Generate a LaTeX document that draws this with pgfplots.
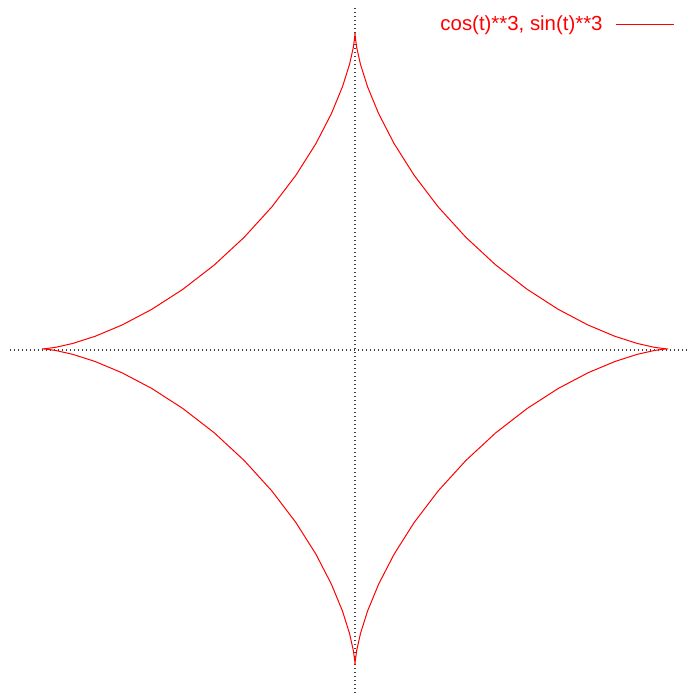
\documentclass[border=0pt]{standalone}
\usepackage{fontspec}
\setmainfont{Liberation Sans}
\usepackage{pgfplots}
\pgfplotsset{compat=1.18}

\begin{document}
\begin{tikzpicture}
\path[use as bounding box] (0,0) rectangle (345pt,346.5pt);
\begin{axis}[
    at={(5pt,0pt)}, anchor=south west,
    width=340pt, height=343pt,
    scale only axis,
    axis lines=none,
    xmin=-1.102, xmax=1.070,
    ymin=-1.089, ymax=1.082,
    clip=false,
    legend plot pos=right,
    legend cell align=right,
    legend style={draw=none, fill=none, at={(1,1)}, anchor=north east,
        xshift=-4.5pt, yshift=0pt,
        font=\fontsize{10.2}{12}\selectfont, text=red},
    legend image code/.code={\path (0pt,0pt); \draw[#1] (4.5pt,0pt) -- (33.5pt,0pt);},
]
% zero axes
\draw[black!75, line width=0.7pt, dash pattern=on 0.7pt off 1.3pt]
    (rel axis cs:0,0.5) -- (rel axis cs:1,0.5);
\draw[black!75, line width=0.7pt, dash pattern=on 0.7pt off 1.3pt]
    ({axis cs:0,0}|-{rel axis cs:0,0}) -- ({axis cs:0,0}|-{rel axis cs:0,1});

% astroid x = cos^3 t, y = sin^3 t, t in 5 degree steps
\addplot[red, line width=0.5pt] coordinates {
    (1,0) (0.9886,0.0007) (0.9551,0.0052) (0.9012,0.0173) (0.8298,0.0400)
    (0.7444,0.0755) (0.6495,0.125) (0.5497,0.1887) (0.4495,0.2656)
    (0.3536,0.3536) (0.2656,0.4495) (0.1887,0.5497) (0.125,0.6495)
    (0.0755,0.7444) (0.0400,0.8298) (0.0173,0.9012) (0.0052,0.9551)
    (0.0007,0.9886) (0,1)
    (-0.0007,0.9886) (-0.0052,0.9551) (-0.0173,0.9012) (-0.0400,0.8298)
    (-0.0755,0.7444) (-0.125,0.6495) (-0.1887,0.5497) (-0.2656,0.4495)
    (-0.3536,0.3536) (-0.4495,0.2656) (-0.5497,0.1887) (-0.6495,0.125)
    (-0.7444,0.0755) (-0.8298,0.0400) (-0.9012,0.0173) (-0.9551,0.0052)
    (-0.9886,0.0007) (-1,0)
    (-0.9886,-0.0007) (-0.9551,-0.0052) (-0.9012,-0.0173) (-0.8298,-0.0400)
    (-0.7444,-0.0755) (-0.6495,-0.125) (-0.5497,-0.1887) (-0.4495,-0.2656)
    (-0.3536,-0.3536) (-0.2656,-0.4495) (-0.1887,-0.5497) (-0.125,-0.6495)
    (-0.0755,-0.7444) (-0.0400,-0.8298) (-0.0173,-0.9012) (-0.0052,-0.9551)
    (-0.0007,-0.9886) (0,-1)
    (0.0007,-0.9886) (0.0052,-0.9551) (0.0173,-0.9012) (0.0400,-0.8298)
    (0.0755,-0.7444) (0.125,-0.6495) (0.1887,-0.5497) (0.2656,-0.4495)
    (0.3536,-0.3536) (0.4495,-0.2656) (0.5497,-0.1887) (0.6495,-0.125)
    (0.7444,-0.0755) (0.8298,-0.0400) (0.9012,-0.0173) (0.9551,-0.0052)
    (0.9886,-0.0007) (1,0)
};
\addlegendentry{cos(t)**3, sin(t)**3}
\end{axis}
\end{tikzpicture}
\end{document}
